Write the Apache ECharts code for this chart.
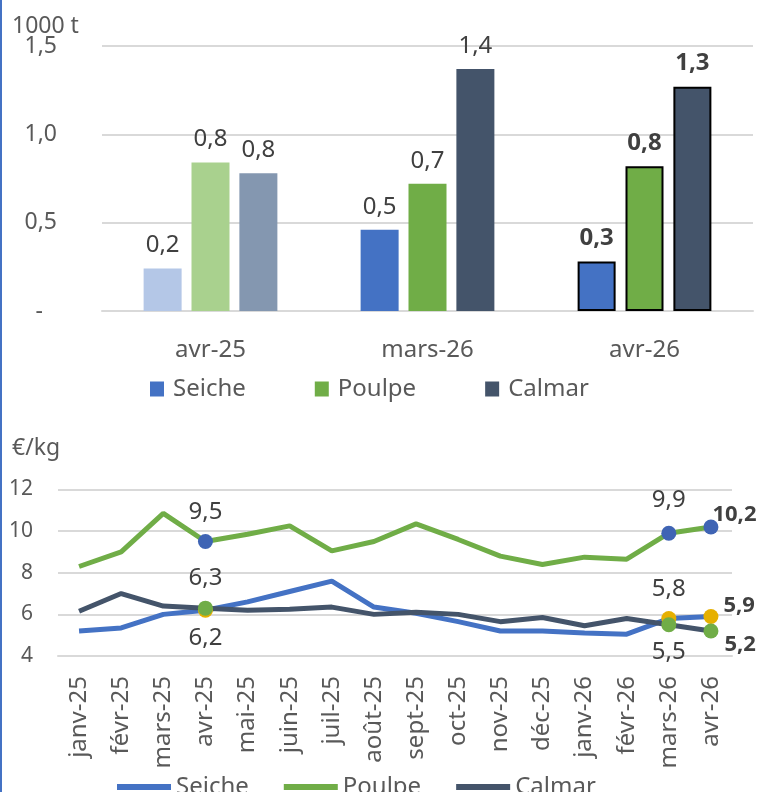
<!DOCTYPE html>
<html>
<head>
<meta charset="utf-8">
<script src="https://cdn.jsdelivr.net/npm/echarts@6/dist/echarts.min.js"></script>
<style>
  html, body { margin: 0; padding: 0; background: #fff; }
  #wrap { position: relative; width: 761px; height: 792px; overflow: hidden; }
  #vol { position: absolute; left: 0; top: 0; width: 761px; height: 420px; }
  #price { position: absolute; left: 0; top: 420px; width: 761px; height: 372px; }
  #edge { position: absolute; left: 0; top: 0; width: 2px; height: 792px; background: #4472C4; }
</style>
</head>
<body>
<div id="wrap">
  <div id="vol"></div>
  <div id="price"></div>
  <div id="edge"></div>
</div>
<script>
// volumes (1000 t)
const volCats = ['avr-25', 'mars-26', 'avr-26'];
const volSeiche = [0.24, 0.46, 0.28];
const volPoulpe = [0.84, 0.72, 0.82];
const volCalmar = [0.78, 1.37, 1.27];

// prix (€/kg)
const months = ['janv-25', 'févr-25', 'mars-25', 'avr-25', 'mai-25', 'juin-25', 'juil-25', 'août-25',
  'sept-25', 'oct-25', 'nov-25', 'déc-25', 'janv-26', 'févr-26', 'mars-26', 'avr-26'];
const priceSeiche = [5.2, 5.35, 6.0, 6.2, 6.6, 7.1, 7.6, 6.35, 6.05, 5.65, 5.2, 5.2, 5.1, 5.05, 5.8, 5.9];
const pricePoulpe = [8.3, 9.0, 10.85, 9.5, 9.85, 10.25, 9.05, 9.5, 10.35, 9.6, 8.8, 8.4, 8.75, 8.65, 9.9, 10.2];
const priceCalmar = [6.15, 7.0, 6.4, 6.3, 6.2, 6.25, 6.35, 6.0, 6.1, 6.0, 5.65, 5.85, 5.45, 5.8, 5.5, 5.2];
const markedIdx = [3, 14, 15];

const FONT = 'Noto Sans';
const TXT = '#595959';
const LBL = '#404040';
const dark = { Seiche: '#4472C4', Poulpe: '#70AD47', Calmar: '#44546A' };
const light = { Seiche: '#B4C7E7', Poulpe: '#A9D18E', Calmar: '#8497B0' };
const fmt = v => v.toFixed(1).replace('.', ',');

// ---- top chart: bars
function barData(vals, name) {
  return vals.map((v, i) => {
    const item = { value: v };
    if (i === 0) item.itemStyle = { color: light[name] };
    if (i === 2) {
      item.itemStyle = { borderColor: '#000', borderWidth: 2 };
      item.label = { fontWeight: 'bold' };
    }
    return item;
  });
}

function barSeries(name, vals) {
  return {
    name: name,
    type: 'bar',
    barWidth: 38,
    barGap: '26%',
    itemStyle: { color: dark[name] },
    label: {
      show: true,
      position: 'top',
      distance: 11,
      fontFamily: FONT,
      fontSize: 24,
      color: LBL,
      formatter: p => fmt(p.value)
    },
    data: barData(vals, name)
  };
}

const volChart = echarts.init(document.getElementById('vol'));
volChart.setOption({
  animation: false,
  textStyle: { fontFamily: FONT },
  graphic: [{
    type: 'text', left: 12, top: 15,
    style: { text: '1000 t', fontFamily: FONT, fontSize: 23, fill: TXT }
  }],
  grid: { left: 102, right: 8, top: 46, height: 265 },
  legend: {
    left: 145, top: 372,
    itemWidth: 14, itemHeight: 15, itemGap: 69,
    icon: 'rect',
    textStyle: { fontFamily: FONT, fontSize: 24, color: TXT, padding: [0, 0, 0, 4] },
    data: ['Seiche', 'Poulpe', 'Calmar']
  },
  xAxis: {
    type: 'category',
    data: volCats,
    axisTick: { show: false },
    axisLine: { lineStyle: { color: '#d9d9d9', width: 2 } },
    axisLabel: { margin: 27, fontFamily: FONT, fontSize: 24, color: TXT }
  },
  yAxis: {
    type: 'value',
    min: 0, max: 1.5, interval: 0.5,
    splitLine: { lineStyle: { color: '#d9d9d9', width: 2 } },
    axisLabel: {
      margin: 45, fontFamily: FONT, fontSize: 23, color: TXT,
      formatter: v => v === 0 ? '{z|-}' : fmt(v),
      rich: { z: { fontFamily: FONT, fontSize: 23, color: TXT, padding: [0, 14, 0, 0] } }
    }
  },
  series: [
    barSeries('Seiche', volSeiche),
    barSeries('Poulpe', volPoulpe),
    barSeries('Calmar', volCalmar)
  ]
});

// ---- bottom chart: lines
// label placement for the marked points, per series
const seicheLabels = {
  3: { position: 'bottom', distance: 8 },
  14: { position: 'top', distance: 10 },
  15: { position: 'right', distance: 5, offset: [0, -11], fontWeight: 'bold', fontSize: 22 }
};
const poulpeLabels = {
  3: { position: 'top', distance: 10 },
  14: { position: 'top', distance: 14 },
  15: { position: 'right', distance: 0, offset: [-6, -12], fontWeight: 'bold', fontSize: 22 }
};
const calmarLabels = {
  3: { position: 'top', distance: 10 },
  14: { position: 'bottom', distance: 8 },
  15: { position: 'right', distance: 6, offset: [0, 14], fontWeight: 'bold', fontSize: 22 }
};

function lineData(vals, markColor, labels) {
  return vals.map((v, i) => {
    if (markedIdx.indexOf(i) < 0) return { value: v, symbol: 'none' };
    return {
      value: v,
      symbol: 'circle',
      itemStyle: { color: markColor },
      label: Object.assign({ show: true }, labels[i])
    };
  });
}

function lineSeries(name, vals, markColor, labels) {
  return {
    name: name,
    type: 'line',
    symbol: 'circle',
    symbolSize: 15,
    showSymbol: true,
    lineStyle: { color: dark[name], width: 5 },
    itemStyle: { color: dark[name] },
    label: {
      show: false,
      fontFamily: FONT,
      fontSize: 24,
      color: LBL,
      formatter: p => fmt(p.value)
    },
    data: lineData(vals, markColor, labels)
  };
}

const priceChart = echarts.init(document.getElementById('price'));
priceChart.setOption({
  animation: false,
  textStyle: { fontFamily: FONT },
  graphic: [{
    type: 'text', left: 12, top: 17,
    style: { text: '€/kg', fontFamily: FONT, fontSize: 23, fill: TXT }
  }],
  grid: { left: 58, right: 29, top: 69.5, height: 166.5 },
  legend: {
    left: 112, top: 350,
    itemWidth: 54, itemHeight: 6, itemGap: 35,
    icon: 'rect',
    textStyle: { fontFamily: FONT, fontSize: 24, color: TXT },
    data: ['Seiche', 'Poulpe', 'Calmar']
  },
  xAxis: {
    type: 'category',
    data: months,
    axisTick: { show: false },
    axisLine: { lineStyle: { color: '#d9d9d9', width: 2 } },
    axisLabel: { rotate: 90, margin: 20, interval: 0, fontFamily: FONT, fontSize: 24, color: TXT }
  },
  yAxis: {
    type: 'value',
    min: 4, max: 12, interval: 2,
    splitLine: { lineStyle: { color: '#d9d9d9', width: 2 } },
    axisLabel: { margin: 25, fontFamily: FONT, fontSize: 21, color: TXT }
  },
  series: [
    lineSeries('Seiche', priceSeiche, '#E6B000', seicheLabels),
    lineSeries('Poulpe', pricePoulpe, '#3F64B4', poulpeLabels),
    lineSeries('Calmar', priceCalmar, '#70AD47', calmarLabels)
  ]
});
</script>
</body>
</html>
